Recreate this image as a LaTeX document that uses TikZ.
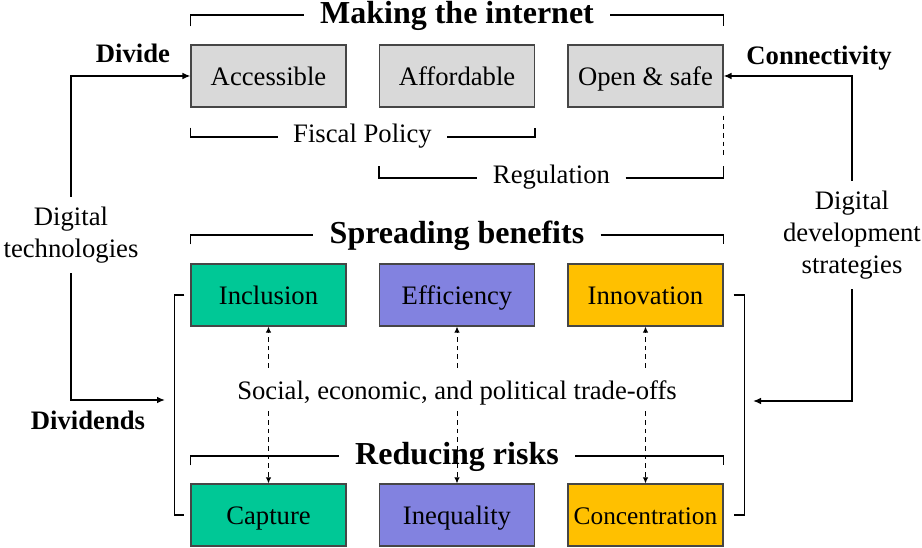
\documentclass[tikz,border=0pt]{standalone}
\usepackage{fontspec}
\setmainfont{Liberation Serif}
\usepackage{xcolor}
\definecolor{silver}{RGB}{217,217,217}
\definecolor{jade}{RGB}{0,200,150}
\definecolor{lavender}{RGB}{130,130,224}
\definecolor{amber}{RGB}{255,192,0}
\definecolor{slate}{RGB}{70,70,70}
\usepackage{tikz}
\usetikzlibrary{arrows.meta}

\begin{document}
\begin{tikzpicture}[
        x=0.75pt, y=-0.75pt,
        box/.style={draw=slate, line width=0.8pt, minimum width=116.25pt, minimum height=46.5pt,
            inner sep=0pt, text height=15pt, text depth=1pt, font=\fontsize{20}{24}\selectfont},
        heading/.style={font=\fontsize{24}{28}\selectfont\bfseries, inner xsep=12pt, inner ysep=0pt,
            text height=18pt, text depth=4.5pt},
        caption/.style={font=\fontsize{20}{24}\selectfont, inner xsep=11.5pt, inner ysep=2pt,
            text height=13.5pt, text depth=4.5pt},
        keyword/.style={font=\fontsize{20}{24}\selectfont\bfseries, inner sep=0pt,
            text height=13.5pt, text depth=4.5pt},
        bracket/.style={line width=1.3pt},
        flow/.style={line width=1.1pt, -{Latex[length=6pt,width=5pt]}},
        tradeoff/.style={line width=0.75pt, dash pattern=on 3.5pt off 3pt, -{Latex[length=4.5pt,width=4pt]}}
    ]
    \useasboundingbox (0,0) rectangle (922,548);

    % boxes
    \node[box, fill=silver] (acc) at (268.5,76) {Accessible};
    \node[box, fill=silver] (aff) at (457,76) {Affordable};
    \node[box, fill=silver] (open) at (645.5,76) {Open \& safe};
    \node[box, fill=jade] (incl) at (268.5,295) {Inclusion};
    \node[box, fill=lavender] (eff) at (457,295) {Efficiency};
    \node[box, fill=amber] (inno) at (645.5,295) {Innovation};
    \node[box, fill=jade] (capt) at (268.5,515) {Capture};
    \node[box, fill=lavender] (ineq) at (457,515) {Inequality};
    \node[box, fill=amber, font=\fontsize{19}{22}\selectfont] (conc) at (645.5,515) {Concentration};

    % headings and brackets
    \node[heading] (making) at (457,15) {Making the internet};
    \node[heading] (spread) at (457,235) {Spreading benefits};
    \node[heading] (reduce) at (457,456) {Reducing risks};
    \node[caption] (fiscal) at (362.5,137) {Fiscal Policy};
    \node[caption] (reg) at (551.5,178) {Regulation};

    \draw[bracket] ([yshift=13.5pt]acc.north west) |- (making.west);
    \draw[bracket] (making.east) -| ([yshift=13.5pt]open.north east);
    \draw[bracket] ([yshift=14.25pt]incl.north west) |- (spread.west);
    \draw[bracket] (spread.east) -| ([yshift=14.25pt]inno.north east);
    \draw[bracket] ([yshift=13.5pt]capt.north west) |- (reduce.west);
    \draw[bracket] (reduce.east) -| ([yshift=13.5pt]conc.north east);
    \draw[bracket] ([yshift=-15pt]acc.south west) |- (fiscal.west);
    \draw[bracket] (fiscal.east) -| ([yshift=-15pt]aff.south east);
    \draw[bracket] ([yshift=-44pt]aff.south west) |- (reg.west);
    \draw[bracket] (reg.east) -| ([yshift=-44pt]open.south east);
    \draw[line width=0.75pt, dash pattern=on 3.5pt off 3pt] ([yshift=-6pt]open.south east) -- ([yshift=-36pt]open.south east);

    \draw[bracket] ([xshift=-4.5pt]incl.west) -| ([xshift=-12pt]capt.west) -- ([xshift=-4.5pt]capt.west);
    \draw[bracket] ([xshift=7.5pt]inno.east) -| ([xshift=15.75pt]conc.east) -- ([xshift=7.5pt]conc.east);

    % trade-offs
    \node[caption] (trade) at (457,394) {Social, economic, and political trade-offs};
    \foreach \up/\down in {incl/capt, eff/ineq, inno/conc} {
        \draw[tradeoff] ([yshift=-30.75pt]\up.south) -- (\up.south);
        \draw[tradeoff] ([yshift=54pt]\down.north) -- (\down.north);
    }

    % side flows
    \node[caption, align=center, inner ysep=7.5pt, text height=, text depth=] (digtech) at (71,235) {Digital\\technologies};
    \node[caption, align=center, inner ysep=7.5pt, text height=, text depth=] (digdev) at (852,235) {Digital\\development\\strategies};
    \node[keyword] (divide) at (133,57) {Divide};
    \node[keyword] (conn) at (819,59) {Connectivity};
    \node[keyword] (divid) at (88,424) {Dividends};
    \coordinate (leftin) at (165,400);
    \coordinate (rightin) at (753,401);

    \draw[flow] (digtech.north) |- (acc.west);
    \draw[flow] (digtech.south) |- (leftin);
    \draw[flow] (digdev.north) |- (open.east);
    \draw[flow] (digdev.south) |- (rightin);
\end{tikzpicture}
\end{document}
